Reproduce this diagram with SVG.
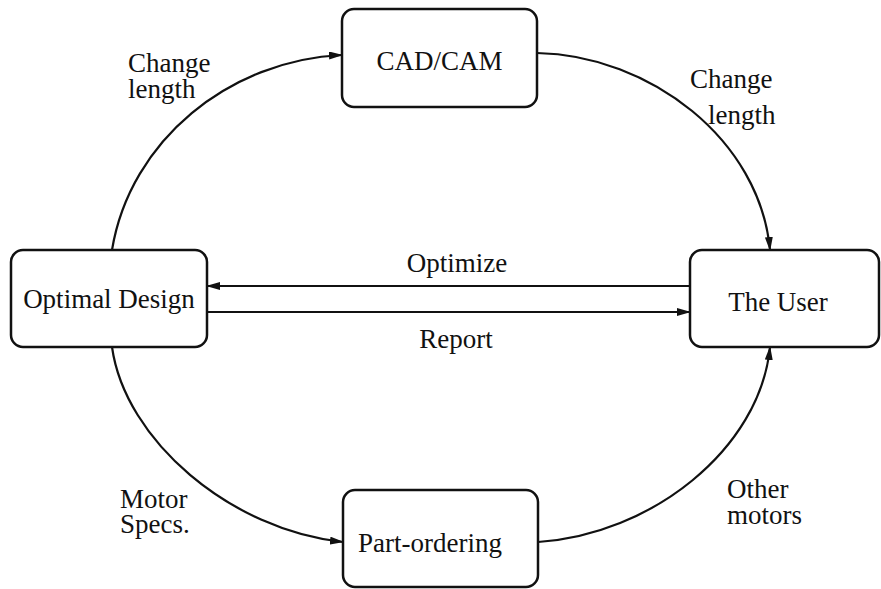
<svg xmlns="http://www.w3.org/2000/svg" width="881" height="589" viewBox="0 0 881 589">
  <defs>
    <marker id="arrow" markerWidth="14" markerHeight="8" refX="13" refY="4" orient="auto" markerUnits="userSpaceOnUse">
      <path d="M0,0 L14,4 L0,8 Z" fill="#111"/>
    </marker>
    <style>
      .box { fill: #fff; stroke: #111; stroke-width: 2.5; }
      .edge { fill: none; stroke: #111; stroke-width: 2.2; marker-end: url(#arrow); }
      .lbl { font-family: 'Liberation Serif', 'DejaVu Serif', serif; font-size: 27px; fill: #111; }
      .c { text-anchor: middle; }
    </style>
  </defs>
  <rect width="881" height="589" fill="#fff"/>

  <g id="connectors">
    <path class="edge" d="M112,250 C130,140 230,60 342,55"/>
    <path class="edge" d="M537,53 C650,55 760,140 770,250"/>
    <path class="edge" d="M112,347 C125,440 230,530 343,542"/>
    <path class="edge" d="M538,542 C650,535 760,450 770,347"/>
    <path class="edge" d="M690,286 L207,286"/>
    <path class="edge" d="M207,312 L690,312"/>
    <g class="lbl" font-family="Liberation Serif, DejaVu Serif, serif">
      <text class="c" x="457" y="272">Optimize</text>
      <text class="c" x="456" y="348">Report</text>
      <text x="128" y="72">Change</text>
      <text x="128" y="98">length</text>
      <text x="690" y="88">Change</text>
      <text x="708" y="124">length</text>
      <text x="120" y="508">Motor</text>
      <text x="120" y="533">Specs.</text>
      <text x="727" y="498">Other</text>
      <text x="727" y="524">motors</text>
    </g>
  </g>

  <g id="cadcam">
    <rect class="box" x="342" y="9" width="195" height="98" rx="12"/>
    <text class="lbl c" font-family="Liberation Serif, DejaVu Serif, serif" x="439.5" y="70">CAD/CAM</text>
  </g>
  <g id="optimal-design">
    <rect class="box" x="11" y="250" width="196" height="97" rx="12"/>
    <text class="lbl c" font-family="Liberation Serif, DejaVu Serif, serif" x="109" y="308">Optimal Design</text>
  </g>
  <g id="the-user">
    <rect class="box" x="690" y="250" width="189" height="97" rx="12"/>
    <text class="lbl c" font-family="Liberation Serif, DejaVu Serif, serif" x="778" y="311">The User</text>
  </g>
  <g id="part-ordering">
    <rect class="box" x="343" y="490" width="195" height="97" rx="12"/>
    <text class="lbl c" font-family="Liberation Serif, DejaVu Serif, serif" x="430" y="552">Part-ordering</text>
  </g>
</svg>
